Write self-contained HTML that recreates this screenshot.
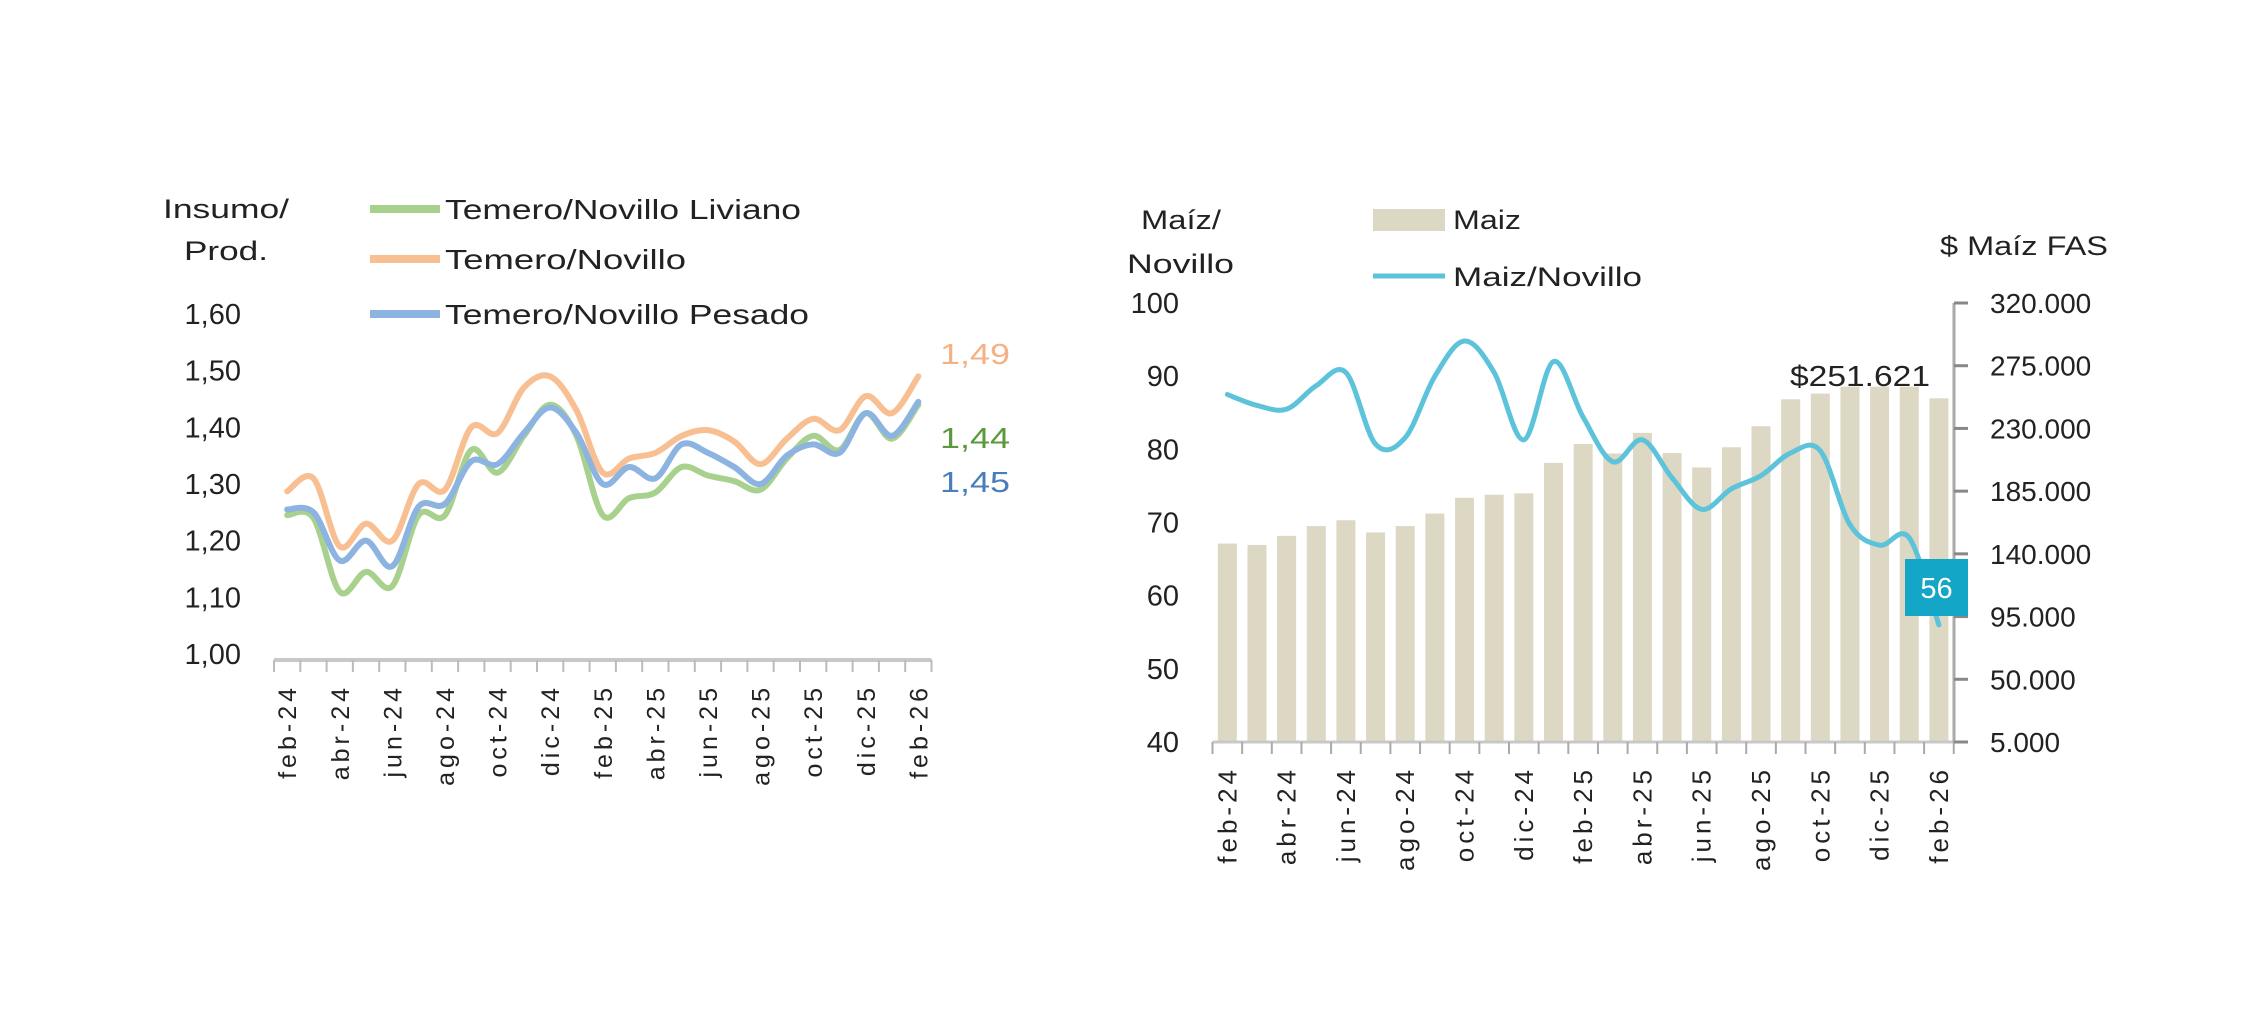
<!DOCTYPE html>
<html><head><meta charset="utf-8"><style>
html,body{margin:0;padding:0;background:#fff;}
svg{display:block;font-family:"Liberation Sans",Arial,sans-serif;}
</style></head><body>
<svg id="svg" width="2250" height="1029" viewBox="0 0 2250 1029" xmlns="http://www.w3.org/2000/svg">
<rect width="2250" height="1029" fill="#fff"/>
<g id="left"></g>
<g id="right"></g>
</svg>
<script>
const months = ["feb-24","mar-24","abr-24","may-24","jun-24","jul-24","ago-24","sep-24","oct-24","nov-24","dic-24","ene-25","feb-25","mar-25","abr-25","may-25","jun-25","jul-25","ago-25","sep-25","oct-25","nov-25","dic-25","ene-26","feb-26"];
const novillo = [1.287,1.31,1.19,1.23,1.20,1.30,1.29,1.40,1.39,1.47,1.49,1.43,1.32,1.345,1.355,1.385,1.395,1.375,1.335,1.38,1.415,1.395,1.455,1.425,1.49];
const pesado = [1.255,1.25,1.165,1.20,1.155,1.26,1.265,1.34,1.335,1.39,1.435,1.39,1.30,1.33,1.31,1.37,1.355,1.33,1.30,1.35,1.37,1.355,1.425,1.385,1.445];
const liviano = [1.245,1.24,1.11,1.145,1.12,1.245,1.245,1.36,1.32,1.385,1.44,1.385,1.245,1.275,1.285,1.33,1.315,1.305,1.29,1.345,1.385,1.36,1.425,1.38,1.44];
const leftTicks = [1.0,1.1,1.2,1.3,1.4,1.5,1.6];
const leftTickLabels = ["1,00","1,10","1,20","1,30","1,40","1,50","1,60"];
const maizPrice = [147400,146400,152900,159900,164100,155400,159900,168900,180200,182400,183400,205300,218800,212000,226800,212300,202000,216500,231600,250900,255000,260000,260000,260000,251621];
const maizNovillo = [87.5,86,85.5,88.7,90.5,80.7,81.6,90,94.8,90.5,81.3,92,84.4,78.3,81.3,76.1,71.8,74.6,76.4,79.5,79.8,69.7,66.9,67.9,56];
const ratioTicks = [40,50,60,70,80,90,100];
const priceTicks = [5000,50000,95000,140000,185000,230000,275000,320000];
const priceTickLabels = ["5.000","50.000","95.000","140.000","185.000","230.000","275.000","320.000"];

const NS="http://www.w3.org/2000/svg";
function mk(parent,tag,attrs,text){const e=document.createElementNS(NS,tag);for(const k in attrs)e.setAttribute(k,attrs[k]);if(text!==undefined)e.textContent=text;parent.appendChild(e);return e;}
function smooth(pts){let d="M"+pts[0][0]+","+pts[0][1];for(let i=0;i<pts.length-1;i++){const p0=pts[i-1]||pts[i],p1=pts[i],p2=pts[i+1],p3=pts[i+2]||p2;const t=6;d+=" C"+(p1[0]+(p2[0]-p0[0])/t)+","+(p1[1]+(p2[1]-p0[1])/t)+" "+(p2[0]-(p3[0]-p1[0])/t)+","+(p2[1]-(p3[1]-p1[1])/t)+" "+p2[0]+","+p2[1];}return d;}

// LEFT
const L=document.getElementById('left');
const lx0=274,lcw=26.3,ly0=654,ly1=314;
const lx=i=>lx0+lcw*(i+0.5);
const ly=v=>ly0-(v-1.0)/0.6*(ly0-ly1);
leftTicks.forEach((v,i)=>{const t=mk(L,'text',{x:241,y:ly(v)+10,'text-anchor':'end','font-size':29,fill:'#222'},leftTickLabels[i]);

});
const lax=mk(L,'line',{x1:lx0,y1:660,x2:lx0+lcw*25,y2:660,stroke:'#c8c8c8','stroke-width':4});


for(let i=0;i<=25;i++){const tk=mk(L,'line',{x1:lx0+lcw*i,y1:660,x2:lx0+lcw*i,y2:672,stroke:'#bbb','stroke-width':2});

}
months.forEach((m,i)=>{if(i%2)return;const t=mk(L,'text',{transform:`translate(${lx(i)+9},684) rotate(-90)`,'text-anchor':'end','font-size':25,'letter-spacing':4,fill:'#222'},m);

});
[[liviano,'#a9d18e','line-liviano'],[novillo,'#f8bf93','line-novillo'],[pesado,'#8db3e0','line-pesado']].forEach(([s,c,n])=>{const p=mk(L,'path',{d:smooth(s.map((v,i)=>[lx(i),ly(v)])),fill:'none',stroke:c,'stroke-width':6,'stroke-linejoin':'round','stroke-linecap':'round'});

});
const e1=mk(L,'text',{x:940,y:364,'font-size':29,fill:'#f4b183',textLength:70,lengthAdjust:'spacingAndGlyphs'},"1,49");


const e2=mk(L,'text',{x:940,y:448,'font-size':29,fill:'#5b9a3c',textLength:70,lengthAdjust:'spacingAndGlyphs'},"1,44");


const e3=mk(L,'text',{x:940,y:492,'font-size':29,fill:'#4a7ebb',textLength:70,lengthAdjust:'spacingAndGlyphs'},"1,45");


const t1=mk(L,'text',{x:163,y:218,'font-size':27,fill:'#222',textLength:126,lengthAdjust:'spacingAndGlyphs'},"Insumo/");


const t2=mk(L,'text',{x:184,y:260,'font-size':27,fill:'#222',textLength:84,lengthAdjust:'spacingAndGlyphs'},"Prod.");


[["Temero/Novillo Liviano",'#a9d18e',209,356],["Temero/Novillo",'#f8bf93',259,241],["Temero/Novillo Pesado",'#8db3e0',314,364]].forEach(([txt,c,y,w])=>{
const g=mk(L,'g',{});


mk(g,'line',{x1:370,y1:y,x2:440,y2:y,stroke:c,'stroke-width':8});
mk(g,'text',{x:445,y:y+10,'font-size':28,fill:'#222',textLength:w,lengthAdjust:'spacingAndGlyphs'},txt);
});

// RIGHT
const R=document.getElementById('right');
const rx0=1212.5,rcw=29.65,ry0=742,ry1=303;
const rx=i=>rx0+rcw*(i+0.5);
const ryL=v=>ry0-(v-40)/60*(ry0-ry1);
const ryR=v=>ry0-(v-5000)/315000*(ry0-ry1);
maizPrice.forEach((v,i)=>{const b=mk(R,'rect',{x:rx(i)-9.5,y:ryR(v),width:19,height:ry0-ryR(v),fill:'#ddd8c3'});

});
const rax=mk(R,'line',{x1:rx0,y1:ry0,x2:rx0+rcw*25,y2:ry0,stroke:'#c8c8c8','stroke-width':3});


for(let i=0;i<=25;i++){const tk=mk(R,'line',{x1:rx0+rcw*i,y1:ry0,x2:rx0+rcw*i,y2:ry0+12,stroke:'#aaa','stroke-width':2});

}
const ya=mk(R,'line',{x1:1954,y1:ry1,x2:1954,y2:ry0,stroke:'#aaa','stroke-width':3});


priceTicks.forEach((v,i)=>{mk(R,'line',{x1:1954,y1:ryR(v),x2:1968,y2:ryR(v),stroke:'#888','stroke-width':3});
const t=mk(R,'text',{x:1990,y:ryR(v)+10,'font-size':28,fill:'#222'},priceTickLabels[i]);

});
ratioTicks.forEach(v=>{const t=mk(R,'text',{x:1179,y:ryL(v)+10,'text-anchor':'end','font-size':29,fill:'#222'},String(v));

});
months.forEach((m,i)=>{if(i%2)return;const t=mk(R,'text',{transform:`translate(${rx(i)+9},766) rotate(-90)`,'text-anchor':'end','font-size':26,'letter-spacing':4,fill:'#222'},m);

});
const rl=mk(R,'path',{d:smooth(maizNovillo.map((v,i)=>[rx(i),ryL(v)])),fill:'none',stroke:'#5cc3da','stroke-width':5,'stroke-linejoin':'round','stroke-linecap':'round'});


const lastI=maizNovillo.length-1;
const box=mk(R,'rect',{x:1905,y:559,width:63,height:57,fill:'#14a6c6'});


const bt=mk(R,'text',{x:1936.5,y:598,'text-anchor':'middle','font-size':29,fill:'#fff'},String(Math.round(maizNovillo[lastI])));


const pl=mk(R,'text',{x:1790,y:386,'font-size':29,fill:'#222',textLength:140,lengthAdjust:'spacingAndGlyphs'},"$251.621");


const r1=mk(R,'text',{x:1141,y:229,'font-size':27,fill:'#222',textLength:80,lengthAdjust:'spacingAndGlyphs'},"Maíz/");


const r2=mk(R,'text',{x:1127,y:273,'font-size':27,fill:'#222',textLength:107,lengthAdjust:'spacingAndGlyphs'},"Novillo");


const r3=mk(R,'text',{x:1940,y:255,'font-size':27,fill:'#222',textLength:168,lengthAdjust:'spacingAndGlyphs'},"$ Maíz FAS");


const lg1=mk(R,'g',{});


mk(lg1,'rect',{x:1373,y:209,width:72,height:22,fill:'#ddd8c3'});
mk(lg1,'text',{x:1453,y:229,'font-size':27,fill:'#222',textLength:68,lengthAdjust:'spacingAndGlyphs'},"Maiz");
const lg2=mk(R,'g',{});


mk(lg2,'line',{x1:1373,y1:276,x2:1445,y2:276,stroke:'#5cc3da','stroke-width':5});
mk(lg2,'text',{x:1453,y:286,'font-size':27,fill:'#222',textLength:189,lengthAdjust:'spacingAndGlyphs'},"Maiz/Novillo");
</script>
</body></html>
